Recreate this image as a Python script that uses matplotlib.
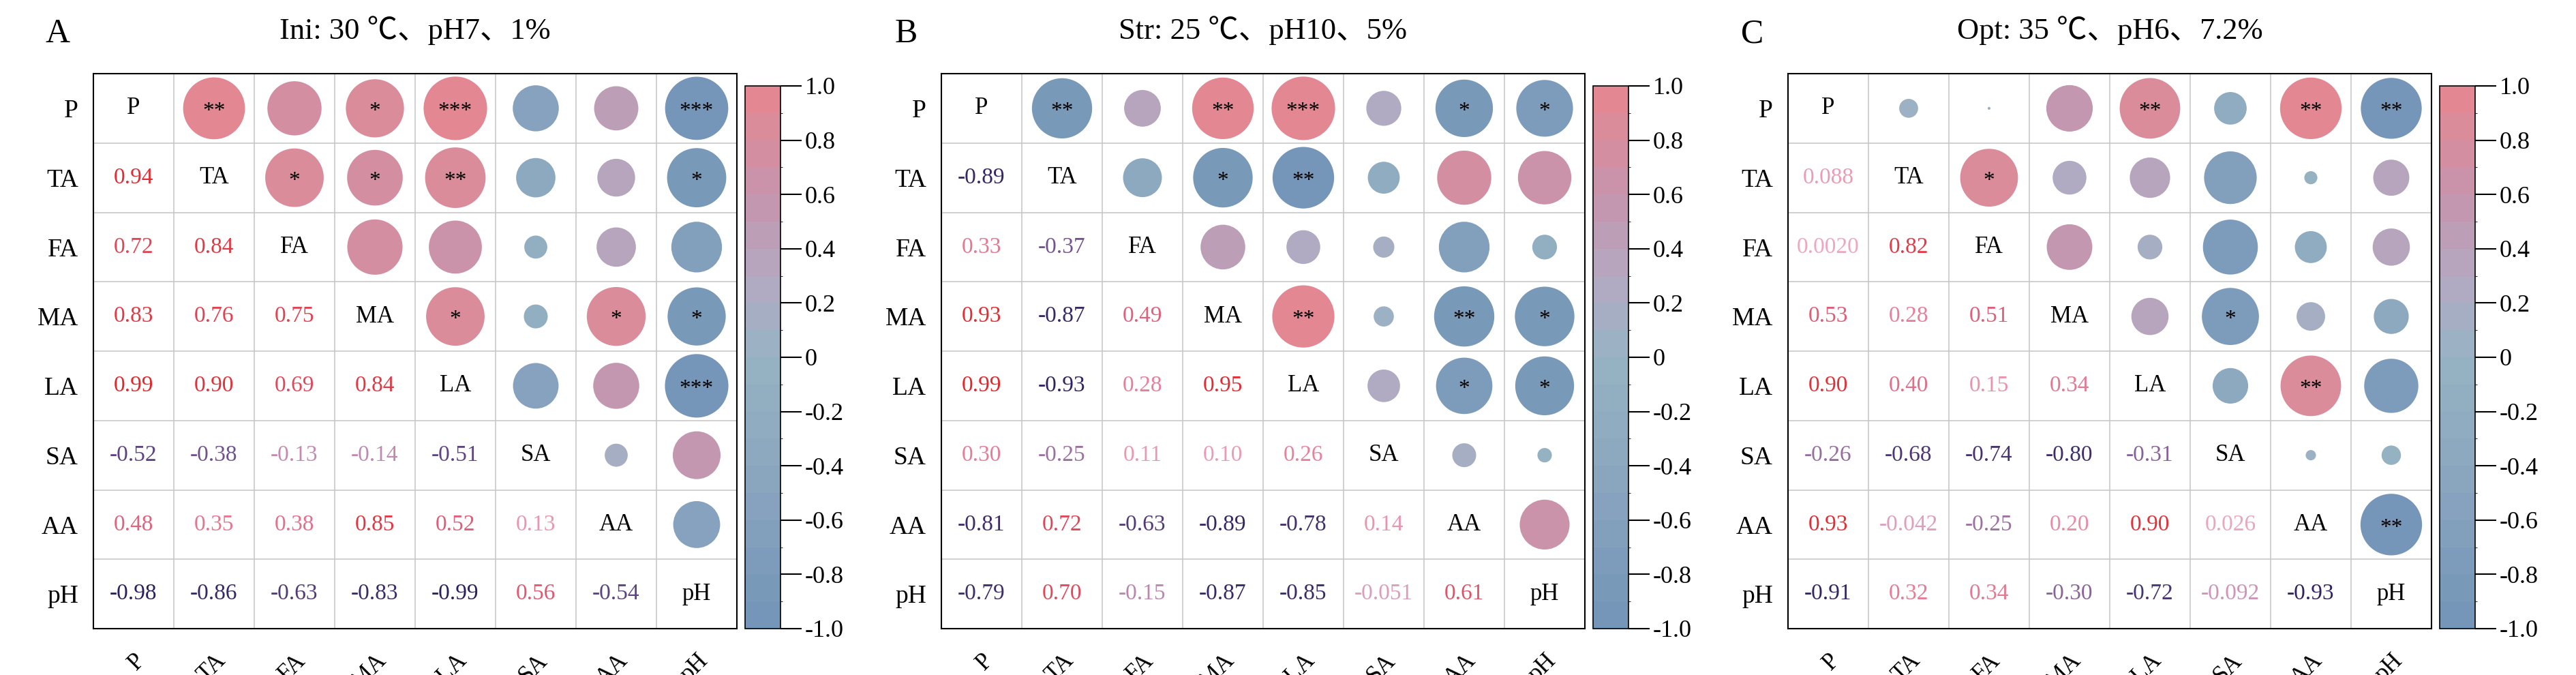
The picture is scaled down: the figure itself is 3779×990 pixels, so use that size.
import numpy as np
import matplotlib
matplotlib.use("Agg")
import matplotlib.pyplot as plt
from matplotlib.colors import LinearSegmentedColormap, BoundaryNorm
from matplotlib.patches import Ellipse

vars_ = ["P", "TA", "FA", "MA", "LA", "SA", "AA", "pH"]
titles = ["Ini: 30 ℃、pH7、1%", "Str: 25 ℃、pH10、5%", "Opt: 35 ℃、pH6、7.2%"]
letters = ["A", "B", "C"]

lower_A = [[0.94],
           [0.72, 0.84],
           [0.83, 0.76, 0.75],
           [0.99, 0.90, 0.69, 0.84],
           [-0.52, -0.38, -0.13, -0.14, -0.51],
           [0.48, 0.35, 0.38, 0.85, 0.52, 0.13],
           [-0.98, -0.86, -0.63, -0.83, -0.99, 0.56, -0.54]]
lower_B = [[-0.89],
           [0.33, -0.37],
           [0.93, -0.87, 0.49],
           [0.99, -0.93, 0.28, 0.95],
           [0.30, -0.25, 0.11, 0.10, 0.26],
           [-0.81, 0.72, -0.63, -0.89, -0.78, 0.14],
           [-0.79, 0.70, -0.15, -0.87, -0.85, -0.051, 0.61]]
lower_C = [[0.088],
           [0.0020, 0.82],
           [0.53, 0.28, 0.51],
           [0.90, 0.40, 0.15, 0.34],
           [-0.26, -0.68, -0.74, -0.80, -0.31],
           [0.93, -0.042, -0.25, 0.20, 0.90, 0.026],
           [-0.91, 0.32, 0.34, -0.30, -0.72, -0.092, -0.93]]
# significance stars, upper triangle, row i -> columns i+1..7
stars_A = [["**", "", "*", "***", "", "", "***"],
           ["*", "*", "**", "", "", "*"],
           ["", "", "", "", ""],
           ["*", "", "*", "*"],
           ["", "", "***"],
           ["", ""],
           [""]]
stars_B = [["**", "", "**", "***", "", "*", "*"],
           ["", "*", "**", "", "", ""],
           ["", "", "", "", ""],
           ["**", "", "**", "*"],
           ["", "*", "*"],
           ["", ""],
           [""]]
stars_C = [["", "", "", "**", "", "**", "**"],
           ["*", "", "", "", "", ""],
           ["", "", "", "", ""],
           ["", "*", "", ""],
           ["", "**", ""],
           ["", ""],
           ["**"]]

panels = [(lower_A, stars_A), (lower_B, stars_B), (lower_C, stars_C)]

SERIF = ["Liberation Serif", "Noto Sans CJK SC", "DejaVu Sans"]
plt.rcParams["font.family"] = SERIF

circ_cmap = LinearSegmentedColormap.from_list("c", [
    (0.0, "#7596B8"), (0.25, "#89A5BF"), (0.5, "#97B4C4"),
    (0.65, "#B3A9C2"), (0.8, "#C596AE"), (1.0, "#E38893")])
norm = BoundaryNorm(np.linspace(-1, 1, 21), circ_cmap.N)
txt_cmap = LinearSegmentedColormap.from_list("t", [
    (0.0, "#2A1E5C"), (0.3, "#6A4D8C"), (0.5, "#EDA9C2"), (0.75, "#E0607A"), (1.0, "#E3262A")])

W, H = 3780, 990
fig = plt.figure(figsize=(W / 100, H / 100), dpi=100)
lefts = [137, 1381, 2623]
gw = 944
top, bot = 108, 922
n = 8

for k, ((low, st), L) in enumerate(zip(panels, lefts)):
    M = np.eye(n)
    for i, row in enumerate(low):
        for j, v in enumerate(row):
            M[i + 1, j] = v
            M[j, i + 1] = v
    ax = fig.add_axes([L / W, 1 - bot / H, gw / W, (bot - top) / H])
    ax.set_xlim(0, n); ax.set_ylim(n, 0)
    cw, ch = gw / n, (bot - top) / n
    for g in range(1, n):
        ax.axhline(g, color="#c8c8c8", lw=1.2, zorder=1)
        ax.axvline(g, color="#c8c8c8", lw=1.2, zorder=1)
    for i in range(n):
        for j in range(n):
            v = M[i, j]
            cx, cy = j + 0.5, i + 0.5
            if i == j:
                ax.text(cx, cy, vars_[i], ha="center", va="center", fontsize=25)
            elif i > j:
                s = "{:#.2g}".format(v)
                ax.text(cx, cy, s, ha="center", va="center", fontsize=24,
                        color=txt_cmap((v + 1) / 2))
            else:
                r = 0.46 * np.sqrt(abs(v))
                e = Ellipse((cx, cy), width=2 * r * ch / cw, height=2 * r,
                            facecolor=circ_cmap(norm(v)), edgecolor="none", zorder=2)
                ax.add_patch(e)
                s = st[i][j - i - 1]
                if s:
                    ax.text(cx, cy + 0.05, s, ha="center", va="center", fontsize=24, zorder=3)
    ax.set_xticks(np.arange(n) + 0.5)
    ax.set_xticklabels(vars_, fontsize=25)
    for t in ax.get_xticklabels():
        t.set_rotation(45)
        t.set_rotation_mode("anchor")
        t.set_ha("right"); t.set_va("top")
    ax.set_yticks(np.arange(n) + 0.5)
    ax.set_yticklabels(vars_, fontsize=27)
    ax.tick_params(axis="y", length=0, pad=16)
    ax.tick_params(axis="x", length=0, pad=22)
    for sp in ax.spines.values():
        sp.set_linewidth(1.5)
    fig.text((L + gw * 0.5) / W, 1 - 45 / H, titles[k], ha="center", va="center",
             fontsize=32, family=SERIF)
    fig.text((L - 52) / W, 1 - 50 / H, letters[k], ha="center", va="center", fontsize=36)
    # colorbar
    cax = fig.add_axes([(L + gw + 12) / W, 1 - bot / H, 52 / W, (bot - 126) / H])
    sm = matplotlib.cm.ScalarMappable(norm=norm, cmap=circ_cmap)
    cb = fig.colorbar(sm, cax=cax, ticks=np.linspace(-1, 1, 11))
    cb.ax.set_yticklabels(["-1.0", "-0.8", "-0.6", "-0.4", "-0.2", "0",
                           "0.2", "0.4", "0.6", "0.8", "1.0"])
    cb.ax.tick_params(labelsize=26, length=22, width=1.5)
    cb.outline.set_linewidth(1.2)

fig.savefig("out.png", dpi=100)
